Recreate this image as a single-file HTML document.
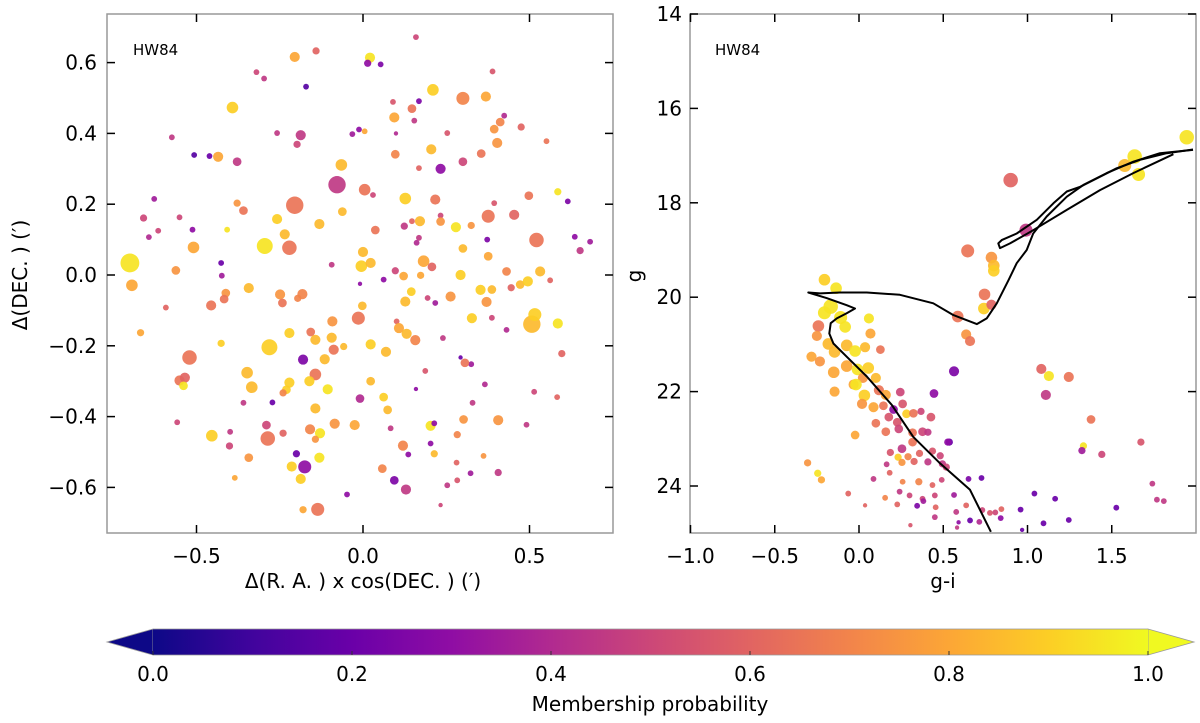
<!DOCTYPE html>
<html><head><meta charset="utf-8"><style>
html,body{margin:0;padding:0;background:#fff;}
svg{display:block;font-family:"DejaVu Sans","Liberation Sans",sans-serif;}
</style></head><body>
<svg id="fig" width="1200" height="723" viewBox="0 0 1200 723" xmlns="http://www.w3.org/2000/svg">
<defs>
<linearGradient id="plasma" x1="0" x2="1" y1="0" y2="0">
<stop offset="0" stop-color="#0d0887"/><stop offset="0.1" stop-color="#41049d"/><stop offset="0.2" stop-color="#6a00a8"/><stop offset="0.3" stop-color="#8f0da4"/><stop offset="0.4" stop-color="#b12a90"/><stop offset="0.5" stop-color="#cc4778"/><stop offset="0.6" stop-color="#e16462"/><stop offset="0.7" stop-color="#f2844b"/><stop offset="0.8" stop-color="#fca636"/><stop offset="0.9" stop-color="#fcce25"/><stop offset="1" stop-color="#f0f921"/>
</linearGradient>
<clipPath id="clipL"><rect x="107" y="14" width="506" height="519"/></clipPath>
<clipPath id="clipR"><rect x="690" y="14" width="506" height="519"/></clipPath>
</defs>
<g id="left"></g>
<g id="right"></g>
<g id="cbar"></g>
</svg>
<script>
// ---- left panel data: offset RA, offset DEC, membership prob, marker size
const lx=[0.159,-0.141,-0.205,0.021,0.014,0.053,0.389,-0.320,-0.297,-0.171,0.210,0.300,0.369,0.168,0.090,-0.392,0.147,0.094,0.424,0.412,0.154,0.475,0.394,-0.574,-0.258,-0.187,-0.198,-0.032,0.005,-0.012,0.099,0.253,0.551,0.403,0.205,-0.507,-0.461,-0.435,-0.378,0.097,0.355,0.300,-0.065,0.168,0.233,-0.078,0.005,0.030,-0.627,0.127,0.217,0.498,0.585,0.615,-0.205,-0.378,-0.359,-0.062,0.394,-0.659,-0.551,-0.258,0.171,0.233,0.233,0.147,0.124,0.376,0.454,-0.512,-0.615,-0.408,-0.131,0.037,0.279,0.325,-0.235,-0.643,0.168,0.161,0.373,0.636,0.682,0.652,0.521,-0.295,-0.221,-0.509,0.300,0.000,0.376,-0.700,-0.694,-0.562,-0.426,-0.424,-0.094,-0.005,0.023,0.097,0.182,0.207,0.293,0.431,0.532,0.562,-0.009,0.062,0.122,0.173,-0.343,-0.412,-0.417,-0.456,-0.249,-0.242,-0.182,-0.196,0.145,0.127,0.194,0.217,0.263,0.353,0.387,0.445,0.472,0.495,0.371,-0.592,-0.002,-0.014,-0.092,0.101,0.108,0.131,0.157,0.327,0.387,0.507,0.516,0.585,0.431,-0.668,-0.221,-0.157,-0.143,-0.094,-0.281,-0.426,-0.088,-0.058,0.023,0.069,0.240,-0.521,-0.180,-0.115,0.293,0.325,0.306,0.597,0.187,-0.348,-0.143,-0.551,-0.535,-0.539,-0.334,-0.221,-0.230,-0.161,-0.106,0.023,-0.240,0.159,0.366,0.514,0.583,-0.359,-0.272,-0.009,0.062,0.074,0.329,-0.143,-0.558,-0.290,-0.085,-0.025,-0.159,-0.129,0.083,0.203,0.214,0.302,0.406,0.491,-0.454,-0.399,-0.401,-0.286,-0.240,-0.143,0.283,0.203,-0.343,-0.200,-0.175,-0.131,0.120,0.136,0.214,0.362,-0.214,0.058,0.281,0.323,0.406,-0.385,-0.187,0.094,0.283,0.253,0.129,-0.048,-0.136,-0.180,0.233];
const ly=[0.672,0.633,0.616,0.614,0.598,0.595,0.575,0.573,0.555,0.532,0.523,0.499,0.504,0.491,0.489,0.473,0.470,0.445,0.450,0.432,0.436,0.418,0.412,0.389,0.401,0.395,0.369,0.398,0.406,0.411,0.400,0.401,0.378,0.373,0.355,0.339,0.336,0.334,0.320,0.341,0.343,0.320,0.311,0.302,0.300,0.255,0.241,0.226,0.215,0.216,0.213,0.224,0.235,0.208,0.197,0.203,0.182,0.179,0.203,0.161,0.163,0.158,0.152,0.168,0.151,0.152,0.138,0.166,0.170,0.128,0.125,0.128,0.144,0.127,0.135,0.140,0.115,0.107,0.105,0.091,0.100,0.108,0.094,0.069,0.099,0.082,0.077,0.078,0.075,0.065,0.053,0.034,-0.029,0.013,0.034,-0.002,0.029,0.025,0.034,0.012,0.039,0.023,0.000,0.010,0.010,-0.015,-0.025,-0.013,-0.003,-0.001,-0.037,-0.051,-0.068,-0.086,-0.055,-0.079,-0.054,-0.066,-0.047,-0.075,-0.065,-0.079,-0.061,-0.042,-0.041,-0.036,-0.027,-0.018,-0.076,-0.092,-0.087,-0.122,-0.131,-0.131,-0.150,-0.166,-0.184,-0.122,-0.121,-0.139,-0.112,-0.137,-0.155,-0.163,-0.164,-0.161,-0.183,-0.177,-0.204,-0.193,-0.211,-0.202,-0.196,-0.217,-0.178,-0.233,-0.239,-0.238,-0.233,-0.252,-0.248,-0.222,-0.271,-0.276,-0.281,-0.298,-0.290,-0.313,-0.317,-0.304,-0.324,-0.300,-0.323,-0.300,-0.333,-0.322,-0.309,-0.330,-0.345,-0.361,-0.360,-0.349,-0.345,-0.381,-0.361,-0.377,-0.416,-0.424,-0.420,-0.424,-0.436,-0.447,-0.433,-0.426,-0.419,-0.408,-0.410,-0.423,-0.454,-0.443,-0.483,-0.462,-0.447,-0.464,-0.451,-0.476,-0.516,-0.505,-0.542,-0.516,-0.482,-0.507,-0.505,-0.511,-0.541,-0.547,-0.530,-0.560,-0.558,-0.573,-0.576,-0.580,-0.580,-0.594,-0.606,-0.620,-0.662,-0.663,-0.650];
const lp=[0.5,0.6,0.8,0.95,0.3,0.25,0.55,0.5,0.45,0.15,0.9,0.7,0.8,0.25,0.55,0.9,0.65,0.8,0.4,0.7,0.45,0.6,0.75,0.45,0.45,0.45,0.5,0.35,0.8,0.3,0.4,0.55,0.65,0.75,0.85,0.15,0.2,0.8,0.45,0.7,0.65,0.5,0.85,0.6,0.3,0.45,0.65,0.5,0.35,0.9,0.65,0.65,0.95,0.25,0.65,0.75,0.65,0.85,0.55,0.5,0.5,0.9,0.85,0.5,0.75,0.6,0.45,0.65,0.6,0.3,0.5,0.95,0.85,0.65,0.95,0.75,0.85,0.4,0.45,0.4,0.25,0.3,0.35,0.45,0.65,0.95,0.65,0.8,0.85,0.85,0.8,0.95,0.8,0.75,0.2,0.35,0.45,0.9,0.85,0.5,0.8,0.6,0.9,0.7,0.85,0.6,0.3,0.3,0.8,0.8,0.85,0.75,0.65,0.65,0.75,0.65,0.7,0.7,0.9,0.85,0.5,0.35,0.75,0.9,0.85,0.6,0.85,0.9,0.75,0.6,0.85,0.65,0.75,0.6,0.8,0.85,0.7,0.9,0.5,0.85,0.9,0.95,0.4,0.8,0.9,0.65,0.85,0.85,0.9,0.9,0.65,0.85,0.9,0.85,0.45,0.65,0.25,0.85,0.2,0.35,0.65,0.6,0.55,0.85,0.65,0.65,0.6,0.95,0.85,0.9,0.9,0.9,0.95,0.85,0.7,0.3,0.4,0.5,0.6,0.45,0.2,0.4,0.9,0.85,0.45,0.85,0.5,0.5,0.75,0.8,0.7,0.95,0.45,0.95,0.3,0.75,0.75,0.45,0.9,0.45,0.5,0.65,0.6,0.75,0.7,0.3,0.75,0.2,0.3,0.95,0.7,0.3,0.85,0.75,0.9,0.7,0.6,0.35,0.45,0.8,0.9,0.25,0.55,0.45,0.45,0.3,0.65,0.8,0.5];
const lr=[2,2.5,3.5,3.5,2.5,2,2,2,2,2,4,4.5,3.5,2,2,4,3,3.5,2,3,2,2.5,3,2,2,3.5,2.5,2,2,2,1.5,2,2,3.5,3.5,2,2,3.5,3,3,3,3,4,2,3.5,6,4,2,2,4,3.5,3,2.5,2,6,2.5,3,3,2,2.5,2,3.5,3.5,2,3,2,2.5,4.5,3.5,2,2,2,3.5,3,3.5,2.5,3.5,2,2,2,2,2,2,2.5,5,5.5,5,4,3,3.5,3,6.5,4,3,2,2,2,4,3.5,2.5,4,3,3.5,3,3.5,2,1.5,2,3,2.5,3.5,3,3,3.5,3.5,3,3.5,2.5,3,3.5,2,2,3.5,3.5,3,2.5,3,3.5,3.5,2,3,4.5,3.5,2,3.5,3.5,3.5,3.5,2,6,4.5,3.5,2,2.5,3.5,3,3.5,3.5,5.5,2.5,3.5,2.5,3.5,3.5,2,5,3.5,3.5,1.5,2,3,2.5,2,4,4,3.5,3.5,3,4,3.5,3,3.5,3.5,3,2.5,1.5,2,2,2,2,2,3,3,3,2,3.5,2,3,3.5,3.5,3.5,3.5,2,3.5,2,3,3.5,2,4,2,2.5,5,2.5,2.5,2.5,2,3,2.5,4.5,3.5,3.5,2,2.5,2,3.5,3,2,2,2.5,2,3.5,3,2,2,3.5,2,4.5,2.5,1.5];
// ---- right panel data: colour g-i, magnitude g, prob, size
const rx=[1.945,1.636,1.577,1.659,0.900,0.991,0.645,0.786,0.800,0.800,0.745,0.741,0.786,0.586,0.636,0.659,0.564,0.445,1.082,1.127,1.245,1.109,1.377,1.332,1.323,1.441,1.673,1.741,1.768,1.809,1.527,1.245,1.164,1.041,1.095,0.959,0.968,0.841,0.809,0.845,0.777,0.732,0.659,0.714,0.727,0.650,0.536,-0.205,-0.136,-0.241,-0.250,-0.205,-0.168,-0.109,-0.082,0.059,0.068,-0.282,-0.232,-0.145,-0.182,-0.073,-0.023,0.036,0.127,-0.150,-0.073,-0.009,0.055,0.023,-0.032,0.100,-0.145,-0.018,0.032,0.118,0.159,0.245,0.018,0.086,0.145,0.205,0.259,0.177,0.227,0.282,0.323,0.368,0.427,0.100,0.159,0.236,0.318,0.377,0.409,-0.023,0.318,0.255,0.527,0.186,0.232,0.291,0.359,0.436,0.482,0.164,0.255,0.327,0.409,0.495,0.518,0.086,0.182,0.259,0.355,0.436,0.491,-0.064,0.155,0.241,0.300,0.377,0.450,0.564,0.036,0.227,0.345,0.382,0.455,0.577,0.636,0.305,0.450,0.591,0.582,-0.305,-0.245,-0.223];
const rg=[16.61,17.02,17.21,17.40,17.52,18.58,19.02,19.16,19.33,19.44,19.94,20.24,20.16,20.41,20.79,20.93,21.57,22.04,21.52,21.67,21.69,22.07,22.59,23.15,23.25,23.33,23.07,23.95,24.29,24.32,24.46,24.72,24.27,24.16,24.79,24.50,24.93,24.68,24.56,24.49,24.57,24.51,24.73,24.76,23.83,23.85,23.07,19.63,19.81,20.61,20.82,20.33,20.20,20.43,20.63,20.45,20.77,21.26,21.36,21.16,20.99,21.02,21.14,21.06,21.11,21.59,21.46,21.53,21.50,21.71,21.85,21.71,22.00,21.85,22.08,21.97,22.07,22.01,22.26,22.33,22.30,22.38,22.26,22.54,22.65,22.47,22.46,22.42,22.54,22.67,22.85,22.79,22.87,22.85,22.86,22.92,23.07,23.21,23.07,23.29,23.39,23.38,23.31,23.26,23.36,23.54,23.50,23.48,23.49,23.53,23.60,23.85,23.72,23.91,23.91,23.98,23.87,24.16,24.25,24.12,24.20,24.27,24.20,24.19,24.41,24.39,24.42,24.32,24.45,24.55,24.41,24.83,24.66,24.77,24.88,23.51,23.73,23.87];
const rp=[0.95,0.95,0.85,0.95,0.6,0.45,0.65,0.75,0.85,0.9,0.65,0.9,0.6,0.65,0.75,0.65,0.25,0.3,0.6,0.95,0.65,0.45,0.65,0.95,0.35,0.5,0.55,0.45,0.45,0.45,0.2,0.2,0.2,0.2,0.2,0.2,0.2,0.3,0.5,0.6,0.55,0.5,0.2,0.4,0.2,0.25,0.2,0.9,0.95,0.65,0.75,0.95,0.95,0.95,0.95,0.95,0.8,0.8,0.75,0.85,0.85,0.85,0.95,0.85,0.65,0.8,0.8,0.95,0.9,0.75,0.8,0.85,0.8,0.95,0.9,0.65,0.8,0.5,0.75,0.8,0.65,0.3,0.55,0.55,0.55,0.9,0.65,0.5,0.55,0.65,0.65,0.5,0.65,0.5,0.45,0.8,0.65,0.45,0.3,0.55,0.9,0.7,0.6,0.55,0.5,0.45,0.75,0.6,0.45,0.45,0.5,0.45,0.6,0.7,0.7,0.6,0.5,0.6,0.7,0.45,0.5,0.5,0.5,0.35,0.6,0.6,0.25,0.35,0.6,0.45,0.6,0.55,0.45,0.3,0.45,0.75,0.95,0.8];
const rr=[5,5,4.5,4.5,5,4.5,4.5,4,4,4,4,4,3.5,4,3.5,3.5,3.5,3,3.5,3.5,3.5,3.5,3,2.5,2.5,2.5,2.5,2,2,2,2,2,2,2,2,2,1.5,2,2,2,2,2,2,2,2,2,2.5,4,4,4,3.5,4.5,5,4.5,4,3.5,3.5,3.5,3.5,4,4,4,4,3.5,3,4,4,4,4,3.5,3.5,3.5,3.5,4,4,3.5,3.5,3,3.5,3.5,3,3,3,3,3,3,3,2.5,3,3,3,3,3,3,2.5,3,3,3,2.5,2.5,2.5,2.5,2.5,2.5,2.5,2,2.5,2.5,2.5,2.5,2.5,2,2,2,2.5,2,2,2,2,2,2,2,2,2,1.5,2,2,2,2,2,2,1.5,2,1.5,1.5,2.5,2.5,2.5];
// isochrone
const isoX=[0.783,0.659,0.481,0.322,0.194,0.046,-0.073,-0.152,-0.176,-0.168,-0.132,-0.073,-0.024,-0.073,-0.192,-0.301,-0.231,-0.113,0.046,0.243,0.441,0.560,0.699,0.758,0.818,0.887,0.936,0.995,1.034,1.114,1.233,1.332,1.470,1.628,1.786,1.982];
const isoG=[24.97,24.08,23.52,22.96,22.28,21.68,21.26,20.98,20.77,20.55,20.45,20.34,20.24,20.17,20.02,19.90,19.92,19.90,19.90,19.95,20.13,20.38,20.57,20.45,20.13,19.64,19.28,19.00,18.65,18.29,17.87,17.62,17.37,17.13,16.95,16.88];
const iso2X=[1.866,1.628,1.430,1.233,1.034,0.896,0.837,0.827,0.847,0.936,1.055,1.154,1.233,1.312,1.391,1.529,1.668,1.826,1.982];
const iso2G=[16.97,17.37,17.73,18.15,18.58,18.86,18.96,18.86,18.79,18.65,18.36,18.01,17.76,17.66,17.52,17.27,17.09,16.95,16.87];
const lxTicks=[-0.5,0.0,0.5], lyTicks=[0.6,0.4,0.2,0.0,-0.2,-0.4,-0.6];
const rxTicks=[-1.0,-0.5,0.0,0.5,1.0,1.5], rgTicks=[14,16,18,20,22,24];
const cbTicks=[0.0,0.2,0.4,0.6,0.8,1.0];

const NS="http://www.w3.org/2000/svg";
function mk(tag,attrs,parent){const e=document.createElementNS(NS,tag);for(const k in attrs)e.setAttribute(k,attrs[k]);parent.appendChild(e);return e;}
const stops=[[13,8,135],[65,4,157],[106,0,168],[143,13,164],[177,42,144],[204,71,120],[225,100,98],[242,132,75],[252,166,54],[252,206,37],[240,249,33]];
function cmap(p){p=Math.max(0,Math.min(1,p));const t=p*10,i=Math.min(9,Math.floor(t)),f=t-i;const a=stops[i],b=stops[i+1];return `rgb(${Math.round(a[0]+(b[0]-a[0])*f)},${Math.round(a[1]+(b[1]-a[1])*f)},${Math.round(a[2]+(b[2]-a[2])*f)})`;}
const fmt=v=>(v<0?"\u2212":"")+Math.abs(v).toFixed(1);

// left axes
const L=document.getElementById('left');
const Lsx=v=>363+333*v, Lsy=v=>275-354*v;
const gL=mk('g',{'clip-path':'url(#clipL)'},L);
for(let i=0;i<lx.length;i++){
  const c=mk('circle',{cx:Lsx(lx[i]),cy:Lsy(ly[i]),r:lr[i]*1.45,fill:cmap(lp[i]),'fill-opacity':0.92},gL);
  
  
}
mk('rect',{x:107,y:14,width:506,height:519,fill:'none',stroke:'#999','stroke-width':1.5},L);
lxTicks.forEach(v=>{const x=Lsx(v);
  mk('line',{x1:x,x2:x,y1:533,y2:525,stroke:'#000','stroke-width':1.5},L);
  mk('line',{x1:x,x2:x,y1:14,y2:22,stroke:'#000','stroke-width':1.5},L);
  const t=mk('text',{x:x,y:563,'font-size':20,'text-anchor':'middle'},L);t.textContent=fmt(v);
  });
lyTicks.forEach(v=>{const y=Lsy(v);
  mk('line',{x1:107,x2:115,y1:y,y2:y,stroke:'#000','stroke-width':1.5},L);
  mk('line',{x1:613,x2:605,y1:y,y2:y,stroke:'#000','stroke-width':1.5},L);
  const t=mk('text',{x:97,y:y+7,'font-size':20,'text-anchor':'end'},L);t.textContent=fmt(v);
  });
let t=mk('text',{x:363,y:588,'font-size':20,'text-anchor':'middle'},L);t.textContent="\u0394(R. A. ) x cos(DEC. ) (\u2032)";

t=mk('text',{x:0,y:0,'font-size':20,'text-anchor':'middle',transform:'translate(27,275) rotate(-90)'},L);t.textContent="\u0394(DEC. ) (\u2032)";

t=mk('text',{x:133,y:55,'font-size':15},L);t.textContent="HW84";


// right axes
const R=document.getElementById('right');
const Rsx=v=>859+168.5*v, Rsy=g=>14+47.2*(g-14);
const gR=mk('g',{'clip-path':'url(#clipR)'},R);
for(let i=0;i<rx.length;i++){
  const c=mk('circle',{cx:Rsx(rx[i]),cy:Rsy(rg[i]),r:rr[i]*1.45,fill:cmap(rp[i]),'fill-opacity':0.92},gR);
  
  
}
function line(xs,gs,name,w){let d='';xs.forEach((x,i)=>{d+=(i?'L':'M')+Rsx(x).toFixed(1)+','+Rsy(gs[i]).toFixed(1);});
  const p=mk('path',{d:d,fill:'none',stroke:'#000','stroke-width':w,'stroke-linejoin':'round'},gR);
  }
line(isoX,isoG,'isochrone',2);
line(iso2X,iso2G,'isochrone-loop',2);
mk('rect',{x:690,y:14,width:506,height:519,fill:'none',stroke:'#999','stroke-width':1.5},R);
rxTicks.forEach(v=>{const x=Rsx(v);
  mk('line',{x1:x,x2:x,y1:533,y2:525,stroke:'#000','stroke-width':1.5},R);
  mk('line',{x1:x,x2:x,y1:14,y2:22,stroke:'#000','stroke-width':1.5},R);
  const t=mk('text',{x:x,y:563,'font-size':20,'text-anchor':'middle'},R);t.textContent=fmt(v);
  });
rgTicks.forEach(v=>{const y=Rsy(v);
  mk('line',{x1:690,x2:698,y1:y,y2:y,stroke:'#000','stroke-width':1.5},R);
  mk('line',{x1:1196,x2:1188,y1:y,y2:y,stroke:'#000','stroke-width':1.5},R);
  const t=mk('text',{x:682,y:y+7,'font-size':20,'text-anchor':'end'},R);t.textContent=String(v);
  });
t=mk('text',{x:943,y:588,'font-size':20,'text-anchor':'middle'},R);t.textContent="g-i";

t=mk('text',{x:0,y:0,'font-size':20,'text-anchor':'middle',transform:'translate(641,276) rotate(-90)'},R);t.textContent="g";

t=mk('text',{x:715,y:55,'font-size':15},R);t.textContent="HW84";


// colorbar
const C=document.getElementById('cbar');
const Csx=v=>153+995*v;
mk('polygon',{points:'107,642 153,629 153,655',fill:'#0d0887',stroke:'#999','stroke-width':0.8},C);
mk('polygon',{points:'1148,629 1194,642 1148,655',fill:'#f0f921',stroke:'#999','stroke-width':0.8},C);
mk('rect',{x:153,y:629,width:995,height:26,fill:'url(#plasma)'},C);
mk('line',{x1:153,x2:1148,y1:629,y2:629,stroke:'#999','stroke-width':0.8},C);
mk('line',{x1:153,x2:1148,y1:655,y2:655,stroke:'#999','stroke-width':0.8},C);
cbTicks.forEach(v=>{const x=Csx(v);
  mk('line',{x1:x,x2:x,y1:655,y2:651,stroke:'#333','stroke-width':1},C);
  const t=mk('text',{x:x,y:681,'font-size':20,'text-anchor':'middle'},C);t.textContent=v.toFixed(1);
  });
t=mk('text',{x:650,y:711,'font-size':20,'text-anchor':'middle'},C);t.textContent="Membership probability";

</script>
</body></html>
